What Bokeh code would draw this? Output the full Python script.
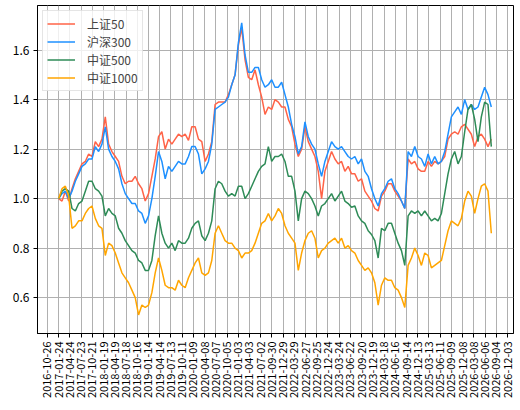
import pandas as pd
from bokeh.plotting import figure
from bokeh.models import FixedTicker, Range1d, DatetimeTickFormatter, ColumnDataSource
from bokeh.embed import file_html
from bokeh.resources import INLINE

series_names = ["上证50", "沪深300", "中证500", "中证1000"]
series_colors = ["tomato", "dodgerblue", "seagreen", "orange"]

start_date = "2017-01-24"
end_date = "2026-07-26"

sz50 = [1.00, 0.99, 1.03, 0.99, 1.04, 1.08, 1.11, 1.14, 1.15, 1.18,
        1.17, 1.23, 1.21, 1.24, 1.33, 1.22, 1.19, 1.17, 1.15, 1.09,
        1.06, 1.07, 1.07, 1.09, 1.06, 1.04, 0.99, 1.02, 1.09, 1.16,
        1.25, 1.27, 1.20, 1.24, 1.22, 1.24, 1.26, 1.25, 1.26, 1.235,
        1.29, 1.29, 1.24, 1.23, 1.15, 1.18, 1.23, 1.38, 1.39, 1.39,
        1.39, 1.42, 1.46, 1.50, 1.62, 1.69, 1.56, 1.49, 1.48, 1.52,
        1.46, 1.41, 1.34, 1.37, 1.36, 1.40, 1.39, 1.37, 1.37, 1.32,
        1.29, 1.22, 1.17, 1.20, 1.29, 1.23, 1.20, 1.17, 1.11, 1.00,
        1.11, 1.15, 1.19, 1.16, 1.14, 1.15, 1.11, 1.13, 1.10, 1.10,
        1.07, 1.08, 1.03, 1.01, 0.99, 0.96, 0.95, 1.01, 1.03, 1.06,
        1.06, 1.03, 1.01, 0.99, 0.96, 1.16, 1.14, 1.15, 1.12, 1.11,
        1.11, 1.15, 1.13, 1.15, 1.14, 1.15, 1.17, 1.24, 1.26, 1.27,
        1.26, 1.29, 1.30, 1.28, 1.26, 1.21, 1.25, 1.26, 1.24, 1.21,
        1.24]

hs300 = [1.00, 1.02, 1.03, 1.00, 1.03, 1.07, 1.10, 1.13, 1.14, 1.16,
         1.16, 1.21, 1.19, 1.22, 1.29, 1.20, 1.17, 1.15, 1.12, 1.06,
         1.02, 1.00, 0.98, 0.98, 0.95, 0.94, 0.90, 0.93, 1.00, 1.09,
         1.19, 1.15, 1.08, 1.13, 1.11, 1.13, 1.15, 1.14, 1.14, 1.17,
         1.21, 1.21, 1.18, 1.10, 1.12, 1.15, 1.22, 1.36, 1.37, 1.38,
         1.39, 1.41, 1.46, 1.50, 1.63, 1.71, 1.58, 1.51, 1.51, 1.53,
         1.53, 1.48, 1.45, 1.46, 1.48, 1.45, 1.45, 1.47, 1.42, 1.37,
         1.30, 1.25, 1.18, 1.21, 1.31, 1.25, 1.22, 1.20, 1.14, 1.09,
         1.15, 1.19, 1.23, 1.21, 1.20, 1.21, 1.19, 1.17, 1.16, 1.17,
         1.14, 1.16, 1.11, 1.09, 1.04, 1.00, 0.97, 1.02, 1.04, 1.07,
         1.08, 1.04, 1.02, 0.99, 0.96, 1.19, 1.17, 1.21, 1.17, 1.16,
         1.13, 1.18, 1.14, 1.17, 1.14, 1.15, 1.19, 1.26, 1.33, 1.35,
         1.37, 1.34, 1.40, 1.36, 1.38, 1.36, 1.37, 1.41, 1.45, 1.42,
         1.37]

zz500 = [1.00, 1.03, 1.04, 1.03, 0.96, 0.95, 0.98, 0.99, 1.03, 1.07,
         1.07, 1.04, 1.03, 1.01, 0.93, 0.96, 0.94, 0.93, 0.88, 0.86,
         0.83, 0.81, 0.79, 0.78, 0.75, 0.74, 0.71, 0.71, 0.75, 0.85,
         0.93, 0.86, 0.82, 0.80, 0.82, 0.79, 0.83, 0.82, 0.82, 0.84,
         0.88, 0.90, 0.91, 0.85, 0.83, 0.86, 0.91, 1.04, 1.07, 1.06,
         1.03, 1.01, 1.02, 1.01, 1.05, 1.05, 1.00, 1.02, 1.05, 1.08,
         1.11, 1.13, 1.14, 1.21, 1.15, 1.17, 1.17, 1.18, 1.15, 1.09,
         1.09, 1.03, 0.91, 1.00, 1.03, 1.02, 1.00, 0.97, 0.93, 0.97,
         0.98, 1.00, 1.02, 0.99, 1.01, 1.03, 0.99, 0.98, 0.965, 0.97,
         0.93, 0.91, 0.90, 0.87, 0.855, 0.83, 0.76, 0.88, 0.87, 0.90,
         0.90, 0.86, 0.82, 0.79, 0.73, 0.93, 0.95, 0.94, 0.95, 0.93,
         0.95, 0.93, 0.91, 0.92, 0.91, 0.94, 1.02, 1.10, 1.16, 1.19,
         1.14, 1.17, 1.27, 1.36, 1.38, 1.32, 1.23, 1.33, 1.39, 1.38,
         1.21]

zz1000 = [1.00, 1.04, 1.05, 1.01, 0.88, 0.89, 0.91, 0.91, 0.94, 0.96,
          0.97, 0.92, 0.89, 0.88, 0.77, 0.82, 0.81, 0.78, 0.74, 0.70,
          0.68, 0.66, 0.63, 0.60, 0.53, 0.57, 0.56, 0.57, 0.62, 0.70,
          0.76, 0.71, 0.65, 0.64, 0.64, 0.63, 0.67, 0.65, 0.64, 0.68,
          0.71, 0.74, 0.76, 0.70, 0.69, 0.70, 0.75, 0.86, 0.89, 0.86,
          0.83, 0.82, 0.82, 0.80, 0.79, 0.76, 0.78, 0.78, 0.79, 0.82,
          0.86, 0.90, 0.91, 0.94, 0.91, 0.93, 0.96, 0.94, 0.89, 0.86,
          0.84, 0.82, 0.71, 0.78, 0.83, 0.86, 0.87, 0.84, 0.76, 0.79,
          0.80, 0.82, 0.83, 0.84, 0.82, 0.84, 0.80, 0.81, 0.79, 0.78,
          0.75, 0.73, 0.71, 0.72, 0.70, 0.66, 0.57, 0.65, 0.68, 0.67,
          0.67, 0.64, 0.63, 0.60, 0.56, 0.73, 0.76, 0.80, 0.77, 0.73,
          0.78, 0.77, 0.72, 0.73, 0.74, 0.75, 0.81, 0.87, 0.91, 0.90,
          0.89, 0.92, 0.99, 1.03, 1.01, 0.94, 1.00, 1.05, 1.06, 1.03,
          0.86]

x_tick_labels = ["2016-10-26", "2017-01-24", "2017-04-24", "2017-07-23", "2017-10-21",
                 "2018-01-19", "2018-04-19", "2018-07-18", "2018-10-16", "2019-01-14",
                 "2019-04-14", "2019-07-13", "2019-10-11", "2020-01-09", "2020-04-08",
                 "2020-07-07", "2020-10-05", "2021-01-03", "2021-04-03", "2021-07-02",
                 "2021-09-30", "2021-12-29", "2022-03-29", "2022-06-27", "2022-09-25",
                 "2022-12-24", "2023-03-24", "2023-06-22", "2023-09-20", "2023-12-19",
                 "2024-03-18", "2024-06-16", "2024-09-14", "2024-12-13", "2025-03-13",
                 "2025-06-11", "2025-09-09", "2025-12-08", "2026-03-08", "2026-06-06",
                 "2026-09-04", "2026-12-03"]
y_ticks = [0.6, 0.8, 1.0, 1.2, 1.4, 1.6]
y_tick_labels = ["0.6", "0.8", "1.0", "1.2", "1.4", "1.6"]

x_start = "2016-08-07"
x_end = "2027-01-20"
y_start = 0.455
y_end = 1.78

dates = pd.date_range(start_date, end_date, periods=len(sz50))
source = ColumnDataSource(dict(date=dates, sz50=sz50, hs300=hs300, zz500=zz500, zz1000=zz1000))
series_cols = ["sz50", "hs300", "zz500", "zz1000"]

FONT = "Noto Sans CJK SC"

p = figure(width=514, height=406, x_axis_type="datetime",
           x_range=Range1d(pd.Timestamp(x_start), pd.Timestamp(x_end)),
           y_range=Range1d(y_start, y_end),
           output_backend="svg", toolbar_location=None,
           min_border_left=37, min_border_right=1, min_border_top=5, min_border_bottom=73)

for col, name, color in zip(series_cols, series_names, series_colors):
    p.line(x="date", y=col, source=source, line_color=color, line_width=1.5, legend_label=name)

epoch = pd.Timestamp("1970-01-01")
tick_ms = [float((pd.Timestamp(s) - epoch) / pd.Timedelta(milliseconds=1)) for s in x_tick_labels]
p.xaxis.ticker = FixedTicker(ticks=tick_ms)
fmt = "%Y-%m-%d"
p.xaxis.formatter = DatetimeTickFormatter(days=fmt, months=fmt, years=fmt, hours=fmt,
                                          hourmin=fmt, minutes=fmt, minsec=fmt, seconds=fmt,
                                          milliseconds=fmt, microseconds=fmt)
p.xaxis.major_label_orientation = 3.14159265 / 2

p.yaxis.ticker = FixedTicker(ticks=y_ticks)
p.yaxis.major_label_overrides = {t: s for t, s in zip(y_ticks, y_tick_labels)}

for ax in (p.xaxis[0], p.yaxis[0]):
    ax.axis_line_color = "black"
    ax.axis_line_width = 1
    ax.major_tick_line_color = "black"
    ax.major_tick_out = 4
    ax.major_tick_in = 0
    ax.minor_tick_out = 0
    ax.minor_tick_in = 0
    ax.major_label_text_font = FONT
    ax.major_label_text_color = "black"
    ax.major_label_standoff = 4
p.xaxis.major_label_text_font_size = "11px"
p.yaxis.major_label_text_font_size = "12px"

p.outline_line_color = "black"
p.outline_line_width = 1
p.outline_line_alpha = 1

p.xgrid.grid_line_color = "#b0b0b0"
p.xgrid.grid_line_width = 1
p.ygrid.grid_line_color = "#b0b0b0"
p.ygrid.grid_line_width = 1

p.background_fill_color = "white"
p.border_fill_color = "white"

lg = p.legend[0]
lg.location = "top_left"
lg.margin = 5
lg.padding = 4
lg.spacing = 1
lg.glyph_width = 28
lg.glyph_height = 17
lg.label_height = 17
lg.label_standoff = 12
lg.label_text_font = FONT
lg.label_text_font_size = "12px"
lg.border_line_color = "#cccccc"
lg.border_line_width = 1
lg.background_fill_alpha = 0.8

open("out.html", "w").write(file_html(p, INLINE))
